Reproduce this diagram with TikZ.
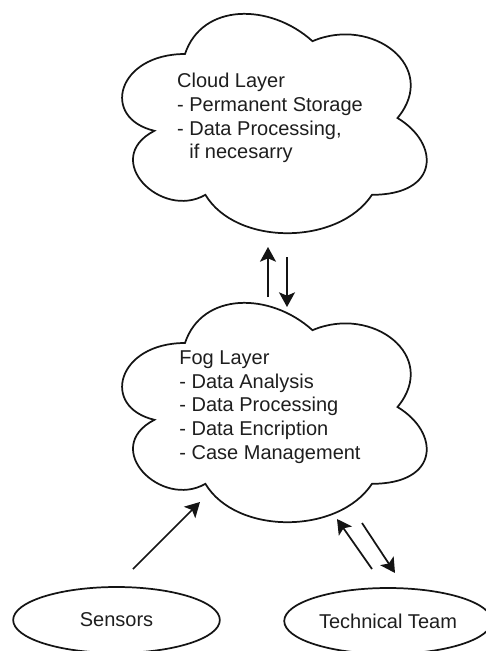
\documentclass[tikz,border=0pt]{standalone}
\usepackage{fontspec}
\setmainfont{Liberation Sans}
\usetikzlibrary{shapes.geometric, arrows.meta, calc}
\definecolor{cLine}{RGB}{20,20,20}
\definecolor{cText}{RGB}{30,30,30}
\tikzset{
	cloudline/.style={line width=1.3pt, draw=cLine},
	% cloud outline in a 255pt x 192pt box, origin at its top left corner
	cloudshape/.pic={
		\begin{scope}[x=255pt, y=-192pt]
			\draw[cloudline] (0.25,0.25) .. controls (0.05,0.25) and (0,0.5) .. (0.16,0.55)
				.. controls (0,0.66) and (0.18,0.9) .. (0.31,0.8)
				.. controls (0.4,1) and (0.7,1) .. (0.8,0.8)
				.. controls (1,0.8) and (1,0.6) .. (0.875,0.5)
				.. controls (1,0.3) and (0.8,0.1) .. (0.625,0.2)
				.. controls (0.5,0.05) and (0.3,0.05) .. (0.25,0.25) -- cycle;
		\end{scope}},
	layer/.style={rectangle, minimum width=255pt, minimum height=192pt, inner sep=0pt, outer sep=0pt, align=left, text=cText},
	actor/.style={ellipse, draw=cLine, line width=1.3pt, minimum width=155pt, minimum height=49.5pt, text=cText},
	flow/.style={-{Stealth[length=11pt, width=12pt, inset=2.5pt]}, line width=1.3pt, cLine},
}
\begin{document}
\begin{tikzpicture}[x=0.75pt, y=-0.75pt, font=\fontsize{15pt}{17.8pt}\selectfont]
	\useasboundingbox (0,0) rectangle (486,651);
	% layers
	\node[layer] (cloud) at (270,118) {Cloud Layer\\- Permanent Storage\\- Data Processing,\\\phantom{- }if necesarry};
	\node[layer] (fog) at (270,407) {Fog Layer\\- Data Analysis\\- Data Processing\\- Data Encription\\- Case Management};
	\pic at (cloud.north west) {cloudshape};
	\pic at (fog.north west) {cloudshape};
	% end devices
	\node[actor] (sensors) at (116.5,620) {Sensors};
	\node[actor] (team) at (388,621) {Technical Team};
	% arrow ends
	\coordinate (fogUp) at (268,297);
	\coordinate (cloudIn) at (268,247);
	\coordinate (cloudOut) at (287,257);
	\coordinate (fogIn) at (287,307);
	\coordinate (sensOut) at (133,569);
	\coordinate (fogLeft) at (200,502);
	\coordinate (teamOut) at (372,569);
	\coordinate (fogRight) at (337,519);
	\coordinate (fogOut) at (362,523);
	\coordinate (teamIn) at (395,573);
	\draw[flow] (fogUp) -- (cloudIn);
	\draw[flow] (cloudOut) -- (fogIn);
	\draw[flow] (sensOut) -- (fogLeft);
	\draw[flow] (teamOut) -- (fogRight);
	\draw[flow] (fogOut) -- (teamIn);
\end{tikzpicture}
\end{document}
